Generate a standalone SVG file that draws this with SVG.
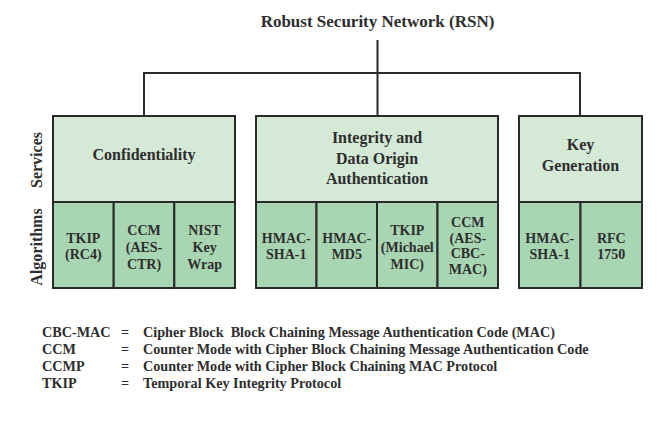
<svg xmlns="http://www.w3.org/2000/svg" width="660" height="433" viewBox="0 0 660 433">
<style>
text{font-family:"Liberation Serif","Times New Roman",serif;font-weight:bold;fill:#2e2e2e;text-anchor:middle}
.svc{fill:#d4e9d6;stroke:#2a2a2a;stroke-width:2}
.alg{fill:#a8d5b2;stroke:#2a2a2a;stroke-width:2}
.conn{fill:none;stroke:#2a2a2a;stroke-width:2}
.t17{font-size:17px}
.t16{font-size:16px}
.t14{font-size:14px}
.leg{font-size:14.2px;text-anchor:start;white-space:pre}
</style>
<rect width="660" height="433" fill="#ffffff"/>
<g id="title"><text class="t17" x="377.5" y="27">Robust Security Network (RSN)</text></g>
<g id="connectors">
<path class="conn" d="M377.5 40 V116 M144 116 V73 H580 V116"/>
</g>
<g id="axis-labels">
<text class="t16" transform="translate(42 160) rotate(-90)">Services</text>
<text class="t16" transform="translate(42 247) rotate(-90)">Algorithms</text>
</g>
<g id="confidentiality">
<rect class="svc" x="53" y="116" width="182" height="86"/>
<text class="t16" x="144" y="160">Confidentiality</text>
<g id="tkip-rc4"><rect class="alg" x="53" y="202" width="60.7" height="86"/><text class="t14" x="83.3" y="243">TKIP</text><text class="t14" x="83.3" y="259">(RC4)</text></g>
<g id="ccm-aes-ctr"><rect class="alg" x="113.7" y="202" width="60.6" height="86"/><text class="t14" x="144" y="235">CCM</text><text class="t14" x="144" y="252">(AES-</text><text class="t14" x="144" y="269">CTR)</text></g>
<g id="nist-key-wrap"><rect class="alg" x="174.3" y="202" width="60.7" height="86"/><text class="t14" x="204.6" y="235">NIST</text><text class="t14" x="204.6" y="252">Key</text><text class="t14" x="204.6" y="269">Wrap</text></g>
</g>
<g id="integrity">
<rect class="svc" x="256" y="116" width="242" height="86"/>
<text class="t16" x="377" y="143">Integrity and</text>
<text class="t16" x="377" y="163.5">Data Origin</text>
<text class="t16" x="377" y="184">Authentication</text>
<g id="hmac-sha1-a"><rect class="alg" x="256" y="202" width="60.5" height="86"/><text class="t14" x="286.3" y="243">HMAC-</text><text class="t14" x="286.3" y="259">SHA-1</text></g>
<g id="hmac-md5"><rect class="alg" x="316.5" y="202" width="60.5" height="86"/><text class="t14" x="346.8" y="243">HMAC-</text><text class="t14" x="346.8" y="259">MD5</text></g>
<g id="tkip-michael"><rect class="alg" x="377" y="202" width="60.5" height="86"/><text class="t14" x="407.3" y="235">TKIP</text><text class="t14" x="407.3" y="252">(Michael</text><text class="t14" x="407.3" y="269">MIC)</text></g>
<g id="ccm-aes-cbc-mac"><rect class="alg" x="437.5" y="202" width="60.5" height="86"/><text class="t14" x="467.8" y="227">CCM</text><text class="t14" x="467.8" y="242.5">(AES-</text><text class="t14" x="467.8" y="258">CBC-</text><text class="t14" x="467.8" y="273.5">MAC)</text></g>
</g>
<g id="key-generation">
<rect class="svc" x="519" y="116" width="123" height="86"/>
<text class="t16" x="580.5" y="150">Key</text>
<text class="t16" x="580.5" y="171">Generation</text>
<g id="hmac-sha1-b"><rect class="alg" x="519" y="202" width="61.5" height="86"/><text class="t14" x="549.8" y="243">HMAC-</text><text class="t14" x="549.8" y="259">SHA-1</text></g>
<g id="rfc-1750"><rect class="alg" x="580.5" y="202" width="61.5" height="86"/><text class="t14" x="611.3" y="243">RFC</text><text class="t14" x="611.3" y="259">1750</text></g>
</g>
<g id="legend">
<text class="leg" x="42" y="337">CBC-MAC</text><text class="leg" x="121" y="337">=</text><text class="leg" x="143" y="337" xml:space="preserve">Cipher Block  Block Chaining Message Authentication Code (MAC)</text>
<text class="leg" x="42" y="354">CCM</text><text class="leg" x="121" y="354">=</text><text class="leg" x="143" y="354">Counter Mode with Cipher Block Chaining Message Authentication Code</text>
<text class="leg" x="42" y="371">CCMP</text><text class="leg" x="121" y="371">=</text><text class="leg" x="143" y="371">Counter Mode with Cipher Block Chaining MAC Protocol</text>
<text class="leg" x="42" y="388">TKIP</text><text class="leg" x="121" y="388">=</text><text class="leg" x="143" y="388">Temporal Key Integrity Protocol</text>
</g>
</svg>
